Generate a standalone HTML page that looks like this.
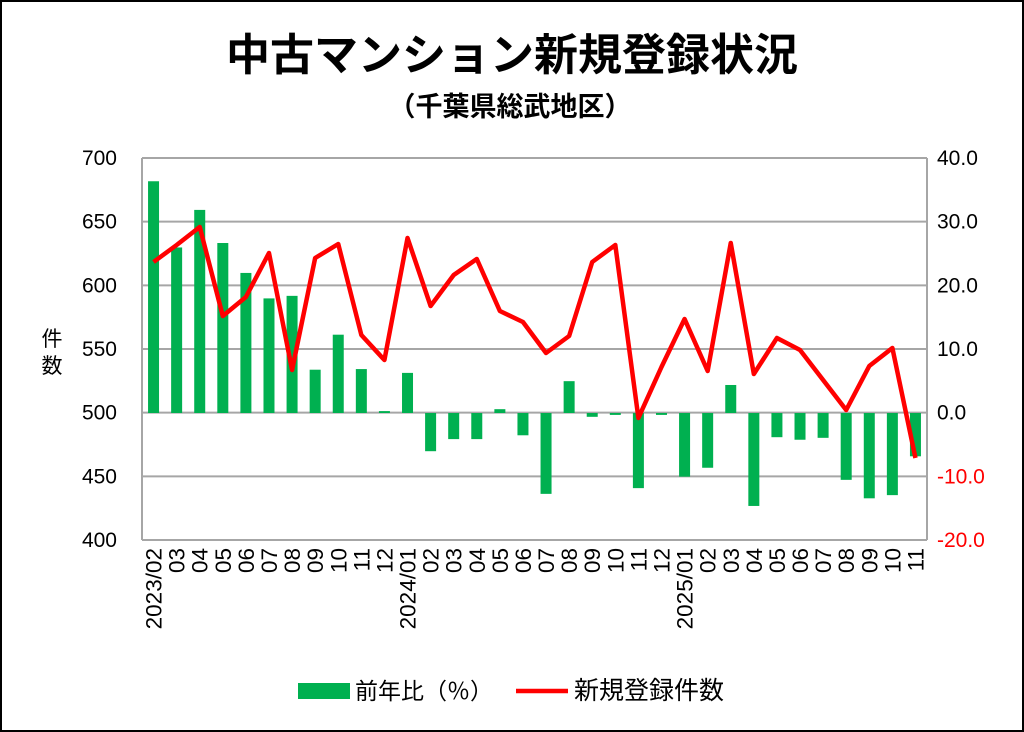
<!DOCTYPE html>
<html><head><meta charset="utf-8"><style>
html,body{margin:0;padding:0;background:#fff;}
svg{display:block;font-family:"Liberation Sans","Noto Sans CJK JP",sans-serif;}
</style></head><body>
<svg id="s" width="1024" height="732" viewBox="0 0 1024 732" xmlns="http://www.w3.org/2000/svg">
<rect x="1" y="1" width="1022" height="730" fill="#fff" stroke="#000" stroke-width="2"/>
<text x="512" y="70" text-anchor="middle" font-size="44" font-weight="bold" font-family="'Noto Sans CJK JP',sans-serif">中古マンション新規登録状況</text>
<text x="510" y="116" text-anchor="middle" font-size="27" font-weight="bold" font-family="'Noto Sans CJK JP',sans-serif">（千葉県総武地区）</text>
<g id="grid" stroke="#a6a6a6" stroke-width="2"></g>
<g id="bars" fill="#00b050"></g>
<polyline id="line" fill="none" stroke="#ff0000" stroke-width="4.5" stroke-linejoin="round"/>
<g id="lab" font-size="21"></g>
<text x="52" y="346" text-anchor="middle" font-size="21" font-family="'Noto Sans CJK JP',sans-serif">件</text>
<text x="52" y="373" text-anchor="middle" font-size="21" font-family="'Noto Sans CJK JP',sans-serif">数</text>
<rect x="298" y="683" width="52" height="16" fill="#00b050"/>
<text x="355" y="699" font-size="23" font-family="'Noto Sans CJK JP',sans-serif">前年比（％）</text>
<line x1="516" y1="691" x2="568" y2="691" stroke="#ff0000" stroke-width="4.5"/>
<text x="574" y="699" font-size="25" font-family="'Noto Sans CJK JP',sans-serif">新規登録件数</text>
</svg>
<script>
var ns="http://www.w3.org/2000/svg";
function el(p,t,a,txt){var e=document.createElementNS(ns,t);for(var k in a)e.setAttribute(k,a[k]);if(txt!=null)e.textContent=txt;document.getElementById(p).appendChild(e);return e;}
var L=142,R=927,T=158,B=540;
for(var i=0;i<=6;i++){var y=T+i*(B-T)/6;el("grid","line",{x1:L,x2:R,y1:y,y2:y});
el("lab","text",{x:L-25,y:y+7,"text-anchor":"end"},String(700-50*i));
var rv=(40-10*i).toFixed(1);el("lab","text",{x:R+10,y:y+7,fill:i>=5?"#ff0000":"#000"},rv);}
el("grid","line",{x1:L,x2:L,y1:T,y2:B});el("grid","line",{x1:R,x2:R,y1:T,y2:B});
var pct=[36.4,26,31.9,26.7,22,18,18.4,6.8,12.3,6.9,0.3,6.3,-6,-4.1,-4.1,0.6,-3.5,-12.7,5,-0.6,-0.3,-11.8,-0.3,-10,-8.6,4.4,-14.6,-3.8,-4.2,-3.9,-10.5,-13.4,-12.9,-6.8];
var ly=[262,245,227,316,297,253,370,258,244,335,360,238,306,275,259,311,322,353,336,262,245,418,367,319,371,243,374,338,350,380,410,366,348,458];
var labels=["2023/02","03","04","05","06","07","08","09","10","11","12","2024/01","02","03","04","05","06","07","08","09","10","11","12","2025/01","02","03","04","05","06","07","08","09","10","11"];
var w=(R-L)/34,zero=413,u=(B-T)/60,pts=[];
for(var i=0;i<34;i++){var cx=L+w*(i+0.5);var h=pct[i]*u;
el("bars","rect",{x:cx-5.5,width:11,y:h>0?zero-h:zero,height:Math.abs(h)});
pts.push(cx+","+ly[i]);
el("lab","text",{transform:"translate("+(cx+8)+",548) rotate(-90)","text-anchor":"end","font-size":"22.5"},labels[i]);}
document.getElementById("line").setAttribute("points",pts.join(" "));
</script>
</body></html>
